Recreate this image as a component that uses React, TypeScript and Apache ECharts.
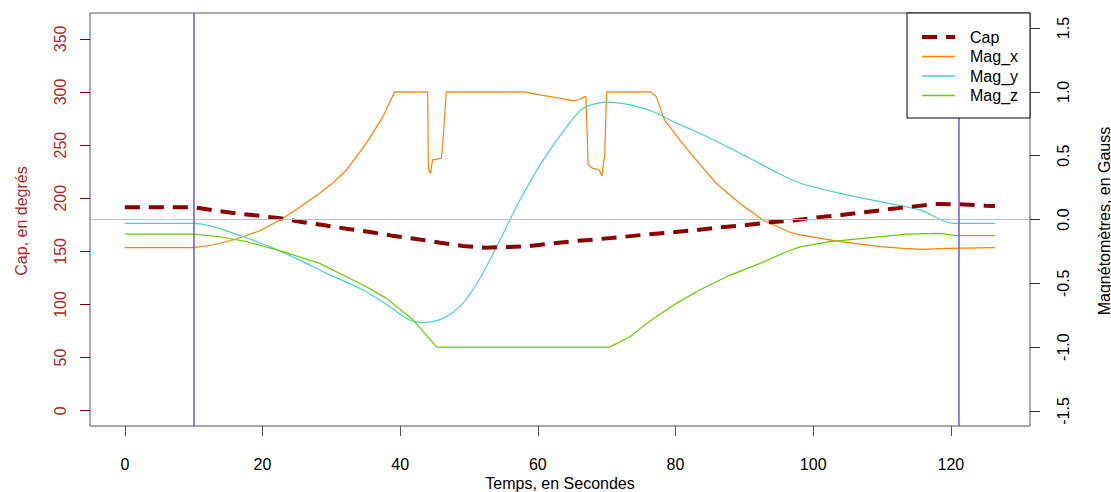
import React, { useEffect, useRef } from 'react';
import * as echarts from 'echarts';

// ---- Data ----
const capTimes = [0, 10, 11.9, 15.5, 18.9, 22.3, 25.7, 28.8, 32.2, 35.6, 38.8, 42.4, 45.8, 49.1, 52.4, 55.5, 58.8, 62.2, 65.6, 69, 72.6, 76, 79.7, 83, 86.4, 90.3, 93.7, 97.1, 100.5, 104.1, 107.3, 110.9, 114.3, 117.7, 121.3, 125, 126.4];
const capValues = [191.5, 191.5, 189.6, 186.4, 183.9, 181.4, 177.7, 174.8, 171.3, 168.2, 164.8, 161.6, 158.2, 155.1, 153.5, 154, 155.1, 157.6, 159.8, 161.6, 163.8, 166, 168, 170.1, 172.7, 174.8, 177.4, 179, 182, 184.2, 186.8, 189.6, 192.1, 194.6, 194.3, 193, 192.8];

const magXTimes = [0, 9.9, 12.8, 16.2, 19.5, 22.6, 25.5, 28.3, 30.3, 32.2, 35.1, 37.5, 38.5, 39.2, 44.0, 44.1, 44.4, 44.7, 46.0, 46.2, 46.7, 57.9, 60.3, 63.2, 65.1, 66.1, 66.8, 67.0, 67.3, 68.0, 68.9, 69.3, 69.7, 70.0, 76.4, 77.2, 78.4, 80.6, 83.0, 85.9, 89.3, 92.7, 96.6, 98.1, 103.9, 109.7, 113.1, 116.0, 119.3, 126.4];
const magXValues = [-0.22, -0.22, -0.2, -0.153, -0.09, -0.004, 0.1, 0.205, 0.29, 0.388, 0.598, 0.806, 0.92, 1.0, 1.0, 0.4, 0.36, 0.467, 0.48, 0.6, 1.0, 1.0, 0.976, 0.95, 0.93, 0.94, 0.963, 0.96, 0.43, 0.4, 0.39, 0.34, 0.5, 1.0, 1.0, 0.963, 0.78, 0.624, 0.467, 0.284, 0.127, -0.004, -0.1, -0.12, -0.174, -0.213, -0.226, -0.234, -0.226, -0.22];

const magYTimes = [0, 9.9, 12.8, 17.2, 21.1, 25.4, 29.3, 34.6, 38.5, 41.4, 43.3, 46.2, 49.1, 51.6, 53.0, 54.5, 57.4, 60.8, 64.2, 66.6, 70.0, 73.4, 76.7, 79.7, 84.5, 90.3, 95.2, 98.1, 103.9, 109.7, 115.5, 120.4, 126.4];
const magYValues = [-0.03, -0.03, -0.056, -0.135, -0.213, -0.318, -0.422, -0.553, -0.684, -0.788, -0.806, -0.775, -0.657, -0.46, -0.32, -0.161, 0.153, 0.467, 0.728, 0.872, 0.919, 0.898, 0.846, 0.767, 0.65, 0.493, 0.355, 0.284, 0.205, 0.14, 0.075, -0.03, -0.03];

const magZTimes = [0, 9.9, 13.8, 17.7, 23.0, 28.3, 32.2, 35.1, 38.0, 41.9, 45.3, 70.4, 73.4, 75.8, 77.2, 79.7, 83.5, 87.4, 92.3, 96.1, 98.1, 102.4, 107.3, 113.6, 118.4, 120.8, 126.4];
const magZValues = [-0.114, -0.114, -0.135, -0.174, -0.252, -0.344, -0.448, -0.527, -0.618, -0.788, -1.0, -1.0, -0.919, -0.814, -0.762, -0.671, -0.553, -0.448, -0.344, -0.253, -0.215, -0.174, -0.148, -0.114, -0.108, -0.127, -0.127];

const xTicks = [0, 20, 40, 60, 80, 100, 120];
const capTicks = [0, 50, 100, 150, 200, 250, 300, 350];
const magTicks = [-1.5, -1.0, -0.5, 0, 0.5, 1.0, 1.5];
const markerTimes = [10, 121.2];
const legendNames = ['Cap', 'Mag_x', 'Mag_y', 'Mag_z'];
const seriesColors = ['#8B0000', '#FF7F00', '#48D1CC', '#66CD00'];

const FONT = '"Liberation Sans", Arial, sans-serif';

const zip = (t: number[], v: number[]) => t.map((x, i) => [x, v[i]]);

export default function App() {
  const ref = useRef<HTMLDivElement>(null);

  useEffect(() => {
    if (!ref.current) return;
    const chart = echarts.init(ref.current, undefined, { renderer: 'svg' });

    const gridL = 90, gridT = 13, gridW = 940, gridH = 413;
    const legX = 907, legY = 13, legW = 123, legH = 105;
    const rowYs = [37, 56.5, 76, 95.5];

    const legendGraphics: any[] = [
      {
        type: 'rect',
        shape: { x: legX, y: legY, width: legW, height: legH },
        style: { fill: '#fff', stroke: '#000', lineWidth: 1 },
        z: 100,
      },
    ];
    legendNames.forEach((name, i) => {
      legendGraphics.push({
        type: 'line',
        shape: { x1: 922, y1: rowYs[i], x2: 955, y2: rowYs[i] },
        style: {
          stroke: seriesColors[i],
          lineWidth: i === 0 ? 4 : 1.5,
          lineDash: i === 0 ? [15, 9] : null,
        },
        z: 101,
      });
      legendGraphics.push({
        type: 'text',
        x: 970,
        y: rowYs[i],
        style: {
          text: name,
          fill: '#000',
          font: `16px ${FONT}`,
          textAlign: 'left',
          textVerticalAlign: 'middle',
        },
        z: 101,
      });
    });

    const option: any = {
      animation: false,
      backgroundColor: '#fff',
      textStyle: { fontFamily: FONT },
      grid: {
        left: gridL,
        top: gridT,
        width: gridW,
        height: gridH,
        show: true,
        borderColor: '#555',
        borderWidth: 1,
        backgroundColor: 'transparent',
      },
      xAxis: {
        type: 'value',
        min: -5.06,
        max: 131.5,
        axisLine: { show: false, onZero: false },
        splitLine: { show: false },
        axisTick: {
          show: true,
          customValues: xTicks,
          length: 10,
          lineStyle: { color: '#555' },
        },
        axisLabel: {
          customValues: xTicks,
          margin: 30,
          fontSize: 16,
          color: '#000',
          fontFamily: FONT,
        },
      },
      yAxis: [
        {
          type: 'value',
          min: -14.4,
          max: 374.4,
          position: 'left',
          axisLine: { show: false, onZero: false },
          splitLine: { show: false },
          axisTick: {
            show: true,
            customValues: capTicks,
            length: 10,
            lineStyle: { color: '#8B0000' },
          },
          axisLabel: {
            customValues: capTicks,
            rotate: 90,
            margin: 22,
            fontSize: 16,
            color: '#A52A2A',
            fontFamily: FONT,
          },
        },
        {
          type: 'value',
          min: -1.618,
          max: 1.618,
          position: 'right',
          axisLine: { show: false, onZero: false },
          splitLine: { show: false },
          axisTick: {
            show: true,
            customValues: magTicks,
            length: 10,
            lineStyle: { color: '#333' },
          },
          axisLabel: {
            customValues: magTicks,
            rotate: 90,
            margin: 25,
            fontSize: 16,
            color: '#000',
            fontFamily: FONT,
            formatter: (v: number) => v.toFixed(1),
          },
        },
      ],
      series: [
        {
          name: 'Mag_x',
          type: 'line',
          yAxisIndex: 1,
          data: zip(magXTimes, magXValues),
          showSymbol: false,
          symbol: 'none',
          lineStyle: { color: seriesColors[1], width: 1.2 },
          z: 3,
        },
        {
          name: 'Mag_y',
          type: 'line',
          yAxisIndex: 1,
          data: zip(magYTimes, magYValues),
          showSymbol: false,
          symbol: 'none',
          smooth: 0.3,
          lineStyle: { color: seriesColors[2], width: 1.2 },
          z: 3,
        },
        {
          name: 'Mag_z',
          type: 'line',
          yAxisIndex: 1,
          data: zip(magZTimes, magZValues),
          showSymbol: false,
          symbol: 'none',
          lineStyle: { color: seriesColors[3], width: 1.2 },
          z: 3,
          markLine: {
            silent: true,
            symbol: 'none',
            label: { show: false },
            data: [{ yAxis: 0, lineStyle: { color: '#BEBEBE', width: 1, type: 'solid' } }],
          },
        },
        {
          name: 'Cap',
          type: 'line',
          yAxisIndex: 0,
          data: zip(capTimes, capValues),
          showSymbol: false,
          symbol: 'none',
          lineStyle: { color: seriesColors[0], width: 4, type: [15, 9], cap: 'butt' },
          z: 4,
          markLine: {
            silent: true,
            symbol: 'none',
            label: { show: false },
            data: markerTimes.map((t) => ({
              xAxis: t,
              lineStyle: { color: '#5A5AFF', width: 1.5, type: 'solid' },
            })),
          },
        },
      ],
      graphic: [
        {
          type: 'text',
          x: 560,
          y: 483,
          style: {
            text: 'Temps, en Secondes',
            fill: '#000',
            font: `16px ${FONT}`,
            textAlign: 'center',
            textVerticalAlign: 'middle',
          },
        },
        {
          type: 'text',
          x: 21,
          y: 221,
          rotation: Math.PI / 2,
          style: {
            text: 'Cap, en degrés',
            fill: '#A52A2A',
            font: `16px ${FONT}`,
            textAlign: 'center',
            textVerticalAlign: 'middle',
          },
        },
        {
          type: 'text',
          x: 1104,
          y: 221,
          rotation: Math.PI / 2,
          style: {
            text: 'Magnétomètres, en Gauss',
            fill: '#000',
            font: `16px ${FONT}`,
            textAlign: 'center',
            textVerticalAlign: 'middle',
          },
        },
        ...legendGraphics,
      ],
    };

    chart.setOption(option);
    return () => chart.dispose();
  }, []);

  return (
    <div
      ref={ref}
      style={{ position: 'fixed', left: 0, top: 0, width: 1111, height: 492, background: '#fff' }}
    />
  );
}
